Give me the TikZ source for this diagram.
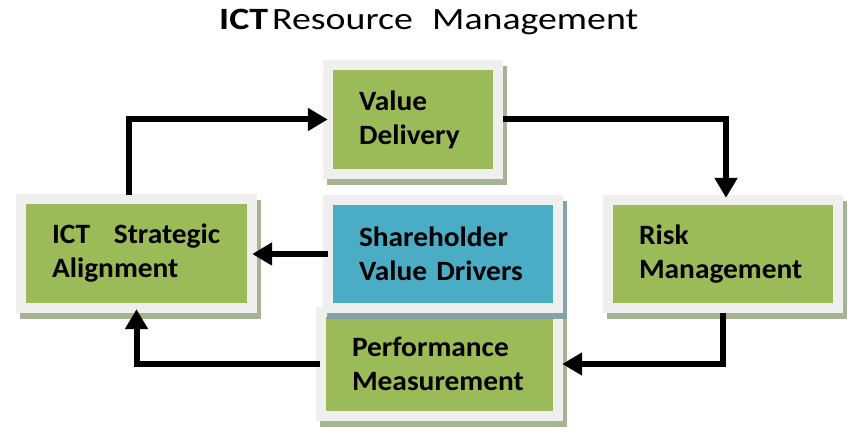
\documentclass[tikz,border=0pt]{standalone}
\usepackage{fontspec}
\setmainfont{Carlito}
\newfontfamily\boxfont{Carlito}[FakeStretch=1.05]
\usetikzlibrary{arrows.meta}
\definecolor{boxgreen}{HTML}{9BBB59}
\definecolor{boxblue}{HTML}{4BACC6}
\definecolor{framegray}{HTML}{EFEFEF}
\definecolor{shadegreen}{HTML}{A7B493}
\definecolor{shadeblue}{HTML}{86A2AA}
\begin{document}
\begin{tikzpicture}[x=1pt,y=-1pt,
  boxbase/.style={inner xsep=26pt, inner ysep=0pt, align=left,
    font=\boxfont\fontsize{28}{34}\selectfont\bfseries, text=black,
    preaction={draw=#1, fill=#1, line width=20pt, line join=miter,
      transform canvas={shift={(4pt,-6pt)}}},
    preaction={draw=framegray, fill=framegray, line width=20pt, line join=miter}},
  greenbox/.style={boxbase=shadegreen, fill=boxgreen},
  bluebox/.style={boxbase=shadeblue, fill=boxblue},
  arr/.style={line width=6pt, -{Triangle[length=20pt,width=22pt]}},
  titlepart/.style={anchor=base west, inner sep=0pt, font=\fontsize{31}{36}\selectfont}
]
\useasboundingbox (0,0) rectangle (863,438);
\fill[white] (0,0) rectangle (863,438);

% title
\node[titlepart] (t1) at (219,30) {\scalebox{1.22}[1]{\bfseries ICT}};
\node[titlepart] (t2) at (272,30) {\scalebox{1.22}[1]{Resource}};
\node[titlepart] (t3) at (432,30) {\scalebox{1.22}[1]{Management}};

% boxes
\node[greenbox, text width=169pt, minimum height=99pt] (L) at (136.5,253.5) {\mbox{ICT\hspace{0.85em}Strategic}\\Alignment};
\node[greenbox, text width=108pt, minimum height=99pt] (VD) at (413,119.5) {Value\\Delivery};
\node[greenbox, text width=168pt, minimum height=98pt] (RM) at (723,254) {Risk\\Management};
\node[greenbox, text width=175pt, minimum height=94pt] (PM) at (439.5,364) {Performance\\Measurement};
\node[bluebox, text width=168pt, minimum height=98pt] (SH) at (443,254) {Shareholder\\Value Drivers};

% connectors
\draw[arr] ([xshift=-7.5pt,yshift=9pt]L.north) |- ([xshift=-5pt]VD.west);
\draw[arr] ([xshift=10pt]VD.east) -| ([xshift=3pt,yshift=7pt]RM.north);
\draw[arr] ([yshift=-10pt]RM.south) |- ([xshift=9pt]PM.east);
\draw[arr] ([xshift=-6pt]PM.west) -| ([yshift=-6pt]L.south);
\draw[arr] ([xshift=-5pt]SH.west) -- ([xshift=5pt]SH.west -| L.east);
\end{tikzpicture}
\end{document}
